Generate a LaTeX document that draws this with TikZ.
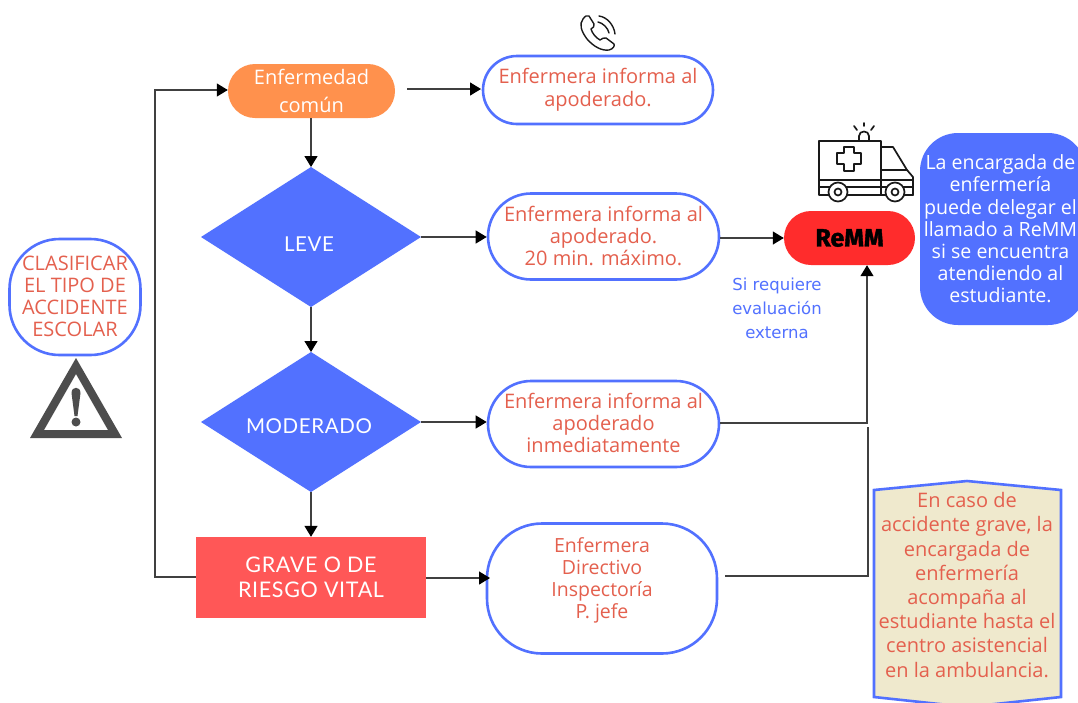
\documentclass[tikz,border=0pt]{standalone}
\usepackage{fontspec}
\setmainfont{Open Sans}
\newfontfamily\headfont[LetterSpace=3]{Lato}
\newfontfamily\remmfont[BoldFeatures={FakeBold=1.5}]{Fira Sans}
\newfontfamily\sifont{DejaVu Sans}
\usetikzlibrary{calc,arrows.meta}
\definecolor{bluemain}{HTML}{5271FF}
\definecolor{redtext}{HTML}{E4604E}
\definecolor{orangebox}{HTML}{FF914D}
\definecolor{redbox}{HTML}{FF5757}
\definecolor{remmred}{HTML}{FF2C2C}
\definecolor{beige}{HTML}{EFE9CD}
\definecolor{warngray}{HTML}{4D4D4D}
\tikzset{
  pill/.style={draw=bluemain,line width=2.6pt,fill=white,rounded corners=#1,inner sep=0pt,align=center,text=redtext,font=\fontsize{20}{22}\selectfont},
  pill/.default=40pt,
  dia/.style={fill=bluemain},
  conn/.style={draw=black!75,line width=1.3pt},
  arr/.style={conn,-{Triangle[length=11pt,width=13pt,fill=black,color=black]}},
  head/.style={text=white,font=\headfont\fontsize{20.5}{25}\selectfont,align=center},
  icon/.style={draw=black!90,line width=1.7pt,line join=round,line cap=round}
}
\begin{document}
\begin{tikzpicture}[x=1pt,y=-1pt]
\useasboundingbox (0,0) rectangle (1078,702);
\fill[white] (0,0) rectangle (1078,702);
% boxes
\node[fill=orangebox,rounded corners=27pt,minimum width=167pt,minimum height=54pt,inner sep=0pt,text=white,align=center,font=\fontsize{20}{28}\selectfont] (enf) at (311.5,91) {Enfermedad\\común};
\node[pill=34pt,minimum width=230pt,minimum height=68pt] (inf1) at (598,90) {Enfermera informa al\\[1pt]apoderado.};
\path[dia] (311,167) -- (421,237) -- (311,307) -- (201,237) -- cycle;
\coordinate (leveT) at (311,167);\coordinate (leveR) at (421,237);\coordinate (leveB) at (311,307);
\node[head] (leve) at (309,244) {LEVE};
\node[pill=43pt,minimum width=231pt,minimum height=86pt] (inf2) at (603.5,236.5) {};
\node[text=redtext,align=center,font=\fontsize{20}{22}\selectfont] (inf2t) at (603.5,235.5) {Enfermera informa al\\apoderado.\\20 min. máximo.};
\path[dia] (311,352) -- (421,422) -- (311,492) -- (201,422) -- cycle;
\coordinate (modT) at (311,352);\coordinate (modR) at (421,422);\coordinate (modB) at (311,492);
\node[head] (mod) at (309,426) {MODERADO};
\node[pill=43pt,minimum width=231pt,minimum height=86pt] (inf3) at (603.5,424) {};
\node[text=redtext,align=center,font=\fontsize{20}{22}\selectfont] (inf3t) at (603.5,423) {Enfermera informa al\\apoderado\\inmediatamente};
\node[fill=redbox,minimum width=230pt,minimum height=81pt,inner sep=0pt] (grave) at (311,577.5) {};
\node[head,font=\headfont\fontsize{21.5}{25}\selectfont] (gravet) at (311,577) {GRAVE O DE\\RIESGO VITAL};
\node[pill=55pt,minimum width=230pt,minimum height=130pt] (inf4) at (602,588.5) {};
\node[text=redtext,align=center,font=\fontsize{19.5}{22}\selectfont] (inf4t) at (602,580.5) {Enfermera\\Directivo\\Inspectoría\\P. jefe};
\node[fill=remmred,rounded corners=27pt,minimum width=131pt,minimum height=54pt,inner sep=0pt,font=\remmfont\bfseries\fontsize{25}{28}\selectfont] (remm) at (849.5,238) {ReMM};
\node[text=bluemain,align=center,font=\sifont\fontsize{16.5}{24}\selectfont] (si) at (777,308) {Si requiere\\evaluación\\externa};
\node[fill=bluemain,rounded corners=38pt,minimum width=166pt,minimum height=192pt,inner sep=0pt] (delega) at (1003,229) {};
\node[text=white,align=center,font=\fontsize{19.6}{22.2}\selectfont] (delegat) at (1000.5,229) {La encargada de\\enfermería\\puede delegar el\\llamado a ReMM\\si se encuentra\\atendiendo al\\estudiante.};
\node[draw=bluemain,line width=2.6pt,fill=white,rounded corners=50pt,minimum width=131pt,minimum height=116pt,inner sep=0pt] (clas) at (75,297) {};
\node[text=redtext,align=center,font=\fontsize{20}{22}\selectfont] (clast) at (75,296) {CLASIFICAR\\EL TIPO DE\\ACCIDENTE\\ESCOLAR};
% banner
\draw[bluemain,line width=2.6pt,fill=beige,line join=miter] (874,490) -- (967,481) -- (1061,490) -- (1061,697) -- (967,707) -- (874,697) -- cycle;
\node[text=redtext,align=center,font=\fontsize{20}{24.2}\selectfont] (nota) at (967,585) {En caso de\\accidente grave, la\\encargada de\\enfermería\\acompaña al\\estudiante hasta el\\centro asistencial\\en la ambulancia.};
% connectors
\coordinate (c1) at (407,89);\coordinate (c1e) at (481,89);
\draw[arr] (c1) -- (c1e);
\draw[arr] (enf.south -| leveT) -- (leveT);
\draw[arr] (leveR) -- (inf2.west |- leveR);
\draw[arr] (inf2.east |- remm.west) -- (remm.west);
\draw[arr] (leveB) -- (modT);
\draw[arr] (modR) -- (inf3.west |- modR);
\coordinate (up) at (867,423);
\draw[arr] (inf3.east |- up) -- (up) -- (remm.south -| up);
\draw[arr] (modB) -- (grave.north -| modB);
\coordinate (g4) at (490,578);
\draw[arr] (grave.east |- g4) -- (g4);
\coordinate (g1) at (725,576);\coordinate (g2) at (868,576);\coordinate (g3) at (868,427);
\draw[conn] (g1) -- (g2) -- (g3);
\coordinate (l1) at (155,577);\coordinate (l2) at (155,90);
\draw[arr] (grave.west |- l1) -- (l1) -- (l2) -- (enf.west |- l2);
% warning triangle
\fill[warngray,even odd rule] (76,358) -- (122,438) -- (30,438) -- cycle (76,374) -- (44,430) -- (108,430) -- cycle;
\fill[warngray] (71.5,393) .. controls (71.5,386) and (80.5,386) .. (80.5,393) -- (77.5,416) -- (74.5,416) -- cycle;
\fill[warngray] (76,422) circle (4.5pt);
% phone
\begin{scope}[icon,line width=1.4pt]
\draw (583,19) .. controls (579,24) and (581,31) .. (587,39) .. controls (594,47) and (602,51) .. (609,50) .. controls (613,49) and (615,46) .. (614,44) -- (606,38) .. controls (604,37) and (602,39) .. (600,40) .. controls (596,38) and (592,33) .. (591,29) .. controls (593,28) and (595,26) .. (594,24) -- (589,16) .. controls (587,15) and (585,16) .. (583,19) -- cycle;
\draw (598,22) .. controls (603,23) and (608,28) .. (609,33);
\draw (599,16) .. controls (607,17) and (614,25) .. (615,34);
\end{scope}
% ambulance
\begin{scope}[icon]
\draw (819,141) -- (881,141) -- (881,195);
\draw (819,141) -- (819,195) -- (913,195);
\draw (881,147) -- (893,147) -- (907,170) -- (913,177) -- (913,195);
\draw (881,170) -- (907,170);
\draw (819,180) -- (913,180);
\draw (819,187) -- (913,187);
\draw[fill=white] (838,192) circle (9.5pt);
\draw (838,192) circle (3.5pt);
\draw[fill=white] (895,192) circle (9.5pt);
\draw (895,192) circle (3.5pt);
\draw (859,141) -- (859,136) .. controls (859,130) and (869,130) .. (869,136) -- (869,141);
\draw (864,123) -- (864,126);
\draw (854,126) -- (857,130) (874,126) -- (871,130);
\draw (844,153) -- (844,147) -- (854,147) -- (854,153) -- (861,153) -- (861,164) -- (854,164) -- (854,171) -- (844,171) -- (844,164) -- (837,164) -- (837,153) -- cycle;
\end{scope}
\end{tikzpicture}
\end{document}
